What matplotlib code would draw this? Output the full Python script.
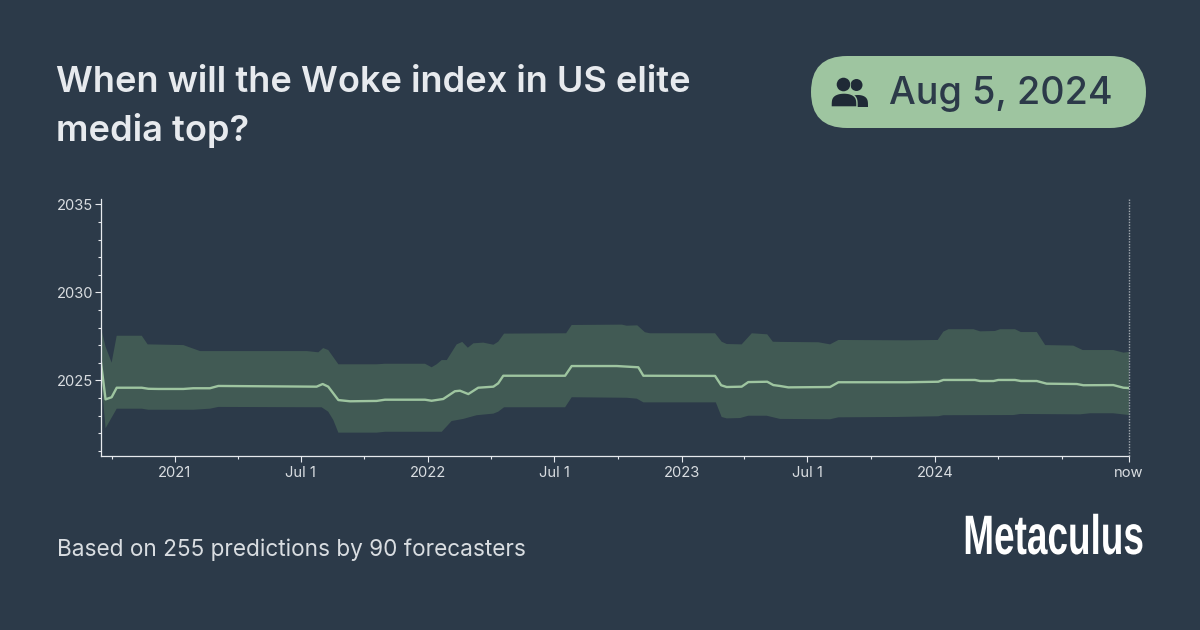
import numpy as np
import matplotlib
matplotlib.use("Agg")
import matplotlib.pyplot as plt
import matplotlib.patheffects as pe
from matplotlib.patches import Circle, FancyBboxPatch, Polygon
from matplotlib.transforms import Affine2D

# x values are decimal years, y values are the predicted year
median_x = [2020.708, 2020.726, 2020.750, 2020.770, 2020.869, 2020.895, 2020.934, 2021.033, 2021.072, 2021.138,
            2021.171, 2021.559, 2021.583, 2021.605, 2021.645, 2021.691, 2021.796, 2021.829, 2021.987, 2022.013,
            2022.059, 2022.105, 2022.125, 2022.158, 2022.197, 2022.257, 2022.276, 2022.296, 2022.540, 2022.566,
            2022.744, 2022.829, 2022.849, 2023.132, 2023.156, 2023.178, 2023.237, 2023.263, 2023.338, 2023.362,
            2023.388, 2023.421, 2023.586, 2023.619, 2023.889, 2024.013, 2024.033, 2024.158, 2024.178, 2024.231,
            2024.250, 2024.316, 2024.339, 2024.402, 2024.441, 2024.560, 2024.586, 2024.704, 2024.744, 2024.766]
median_y = [2026.01, 2023.93, 2024.05, 2024.59, 2024.59, 2024.53, 2024.52, 2024.52, 2024.56, 2024.56,
            2024.69, 2024.65, 2024.80, 2024.65, 2023.89, 2023.82, 2023.84, 2023.91, 2023.91, 2023.85,
            2023.95, 2024.39, 2024.42, 2024.23, 2024.59, 2024.65, 2024.84, 2025.27, 2025.27, 2025.82,
            2025.82, 2025.75, 2025.27, 2025.26, 2024.73, 2024.63, 2024.65, 2024.91, 2024.93, 2024.74,
            2024.69, 2024.61, 2024.63, 2024.90, 2024.90, 2024.93, 2025.03, 2025.03, 2024.97, 2024.97,
            2025.03, 2025.03, 2024.97, 2024.97, 2024.82, 2024.80, 2024.73, 2024.74, 2024.59, 2024.57]

upper_x = [2020.708, 2020.726, 2020.750, 2020.770, 2020.869, 2020.892, 2021.033, 2021.099, 2021.520, 2021.566,
           2021.585, 2021.605, 2021.645, 2021.796, 2021.829, 2021.987, 2022.013, 2022.033, 2022.053, 2022.073,
           2022.112, 2022.134, 2022.156, 2022.178, 2022.217, 2022.257, 2022.276, 2022.299, 2022.544, 2022.566,
           2022.764, 2022.783, 2022.825, 2022.855, 2022.875, 2023.132, 2023.158, 2023.178, 2023.237, 2023.277,
           2023.338, 2023.360, 2023.388, 2023.540, 2023.586, 2023.619, 2023.889, 2024.011, 2024.033, 2024.053,
           2024.152, 2024.178, 2024.237, 2024.257, 2024.316, 2024.339, 2024.402, 2024.435, 2024.546, 2024.583,
           2024.704, 2024.744, 2024.766]
upper_y = [2027.98, 2026.92, 2026.01, 2027.54, 2027.54, 2027.05, 2027.01, 2026.67, 2026.67, 2026.60,
           2026.84, 2026.73, 2025.92, 2025.92, 2025.95, 2025.95, 2025.75, 2025.92, 2026.16, 2026.16,
           2027.05, 2027.19, 2026.86, 2027.11, 2027.15, 2027.03, 2027.20, 2027.66, 2027.68, 2028.15,
           2028.17, 2028.11, 2028.13, 2027.74, 2027.68, 2027.68, 2027.20, 2027.07, 2027.05, 2027.68,
           2027.62, 2027.20, 2027.19, 2027.17, 2027.05, 2027.30, 2027.28, 2027.30, 2027.77, 2027.91,
           2027.91, 2027.79, 2027.81, 2027.91, 2027.91, 2027.75, 2027.75, 2027.01, 2026.98, 2026.73,
           2026.73, 2026.58, 2026.62]

lower_x = [2020.708, 2020.726, 2020.770, 2020.869, 2020.895, 2021.072, 2021.138, 2021.171, 2021.579, 2021.605,
           2021.625, 2021.645, 2021.796, 2021.829, 2022.053, 2022.092, 2022.138, 2022.191, 2022.257, 2022.276,
           2022.299, 2022.540, 2022.566, 2022.783, 2022.823, 2022.849, 2023.135, 2023.158, 2023.178, 2023.231,
           2023.263, 2023.336, 2023.388, 2023.586, 2023.619, 2023.849, 2024.013, 2024.033, 2024.310, 2024.336,
           2024.573, 2024.612, 2024.704, 2024.766]
lower_y = [2025.26, 2022.29, 2023.40, 2023.40, 2023.34, 2023.34, 2023.40, 2023.50, 2023.48, 2023.23,
           2022.76, 2022.04, 2022.04, 2022.09, 2022.09, 2022.70, 2022.82, 2023.03, 2023.12, 2023.23,
           2023.48, 2023.48, 2024.05, 2024.02, 2023.97, 2023.76, 2023.76, 2022.93, 2022.85, 2022.87,
           2023.00, 2023.00, 2022.82, 2022.80, 2022.91, 2022.93, 2022.97, 2023.03, 2023.04, 2023.10,
           2023.08, 2023.14, 2023.14, 2023.04]

x_ticks = [2021, 2021.496, 2022, 2022.498, 2023, 2023.496, 2024, 2024.766]
x_tick_labels = ["2021", "Jul 1", "2022", "Jul 1", "2023", "Jul 1", "2024", "now"]
x_minor_ticks = [2020.75, 2021.25, 2021.748, 2022.247, 2022.748, 2023.247, 2023.748, 2024.247, 2024.5]
y_ticks = [2025, 2030, 2035]
y_minor_ticks = [2021, 2022, 2023, 2024, 2026, 2027, 2028, 2029, 2031, 2032, 2033, 2034]

BG = "#2c3a49"
GREEN = "#9ec5a0"
BAND = "#415a54"
AXIS = "#e7eaee"
TEXT = "#d9dde1"
DARK = "#1f2a36"
W, H = 1200, 630


class Squeeze(pe.AbstractPathEffect):
    # narrows the text horizontally, there is no condensed font installed
    def __init__(self, sx, x0):
        super().__init__()
        self.sx = sx
        self.x0 = x0

    def draw_path(self, renderer, gc, tpath, affine, rgbFace=None):
        squeeze = Affine2D().translate(-self.x0, 0).scale(self.sx, 1).translate(self.x0, 0)
        renderer.draw_path(gc, tpath, affine + squeeze, rgbFace)


fig = plt.figure(figsize=(12, 6.3), dpi=100, facecolor=BG)

# chart
ax = fig.add_axes([101 / W, 1 - 456 / H, (1129 - 101) / W, (456 - 199) / H], facecolor=BG)
ax.fill(upper_x + lower_x[::-1], upper_y + lower_y[::-1], color=BAND, lw=0, zorder=1)
ax.plot(median_x, median_y, color=GREEN, lw=1.7, zorder=2, solid_joinstyle="round")
ax.axvline(2024.766, color="#a4abb2", lw=1, ls=(0, (1, 1)), zorder=3, clip_on=False)

ax.set_xlim(2020.708, 2024.766)
ax.set_ylim(2020.715, 2035.3)
ax.set_xticks(x_ticks, x_tick_labels)
ax.set_xticks(x_minor_ticks, minor=True)
ax.set_yticks(y_ticks)
ax.set_yticklabels([str(y) for y in y_ticks])
ax.set_yticks(y_minor_ticks, minor=True)
for side in ["top", "right"]:
    ax.spines[side].set_visible(False)
for side in ["left", "bottom"]:
    ax.spines[side].set_color(AXIS)
    ax.spines[side].set_linewidth(0.9)
ax.tick_params(which="major", length=4, width=0.8, color=AXIS, labelcolor=TEXT, labelsize=10.6, pad=3)
ax.tick_params(axis="y", which="major", pad=1.5)
ax.tick_params(which="minor", length=2, width=0.8, color=AXIS)
for lab in ax.get_xticklabels() + ax.get_yticklabels():
    lab.set_family("Inter")

# header and footer, placed in pixels
over = fig.add_axes([0, 0, 1, 1], facecolor="none")
over.set_xlim(0, W)
over.set_ylim(H, 0)
over.axis("off")

over.text(56, 83, "When will the Woke index in US elite", family="Inter", weight="semibold", fontsize=26,
          color="#e7eaee", va="center", ha="left")
over.text(56, 131, "media top?", family="Inter", weight="semibold", fontsize=26,
          color="#e7eaee", va="center", ha="left")
over.text(57, 550, "Based on 255 predictions by 90 forecasters", family="Inter", fontsize=16.25,
          color=TEXT, va="center", ha="left")

over.add_patch(FancyBboxPatch((811, 56), 335, 72, boxstyle="round,pad=0,rounding_size=36", fc=GREEN, ec="none"))
over.text(889, 94, "Aug 5, 2024", family="Inter", weight="medium", fontsize=27.2, color=BG, va="center", ha="left")

# users icon
t = np.linspace(0, np.pi, 40)
over.add_patch(Circle((856.5, 85), 6, fc=DARK, ec="none"))
over.add_patch(Polygon(np.c_[858 + 10 * np.cos(t), 107 - 12 * np.sin(t) ** 0.5], fc=DARK, ec="none"))
over.add_patch(Circle((843.5, 84.5), 7.6, fc=GREEN, ec="none"))
over.add_patch(Circle((843.5, 84.5), 6.8, fc=DARK, ec="none"))
over.add_patch(Polygon(np.c_[844 + 13 * np.cos(t), 107 - 14 * np.sin(t) ** 0.5], fc=DARK, ec=GREEN, lw=1))

over.text(1053.5, 540, "Metaculus", family="Liberation Sans", weight="bold", fontsize=40, color="white",
          va="center", ha="center", path_effects=[Squeeze(0.665, 1053.5)])

fig.savefig("out.png", dpi=100, facecolor=BG)
